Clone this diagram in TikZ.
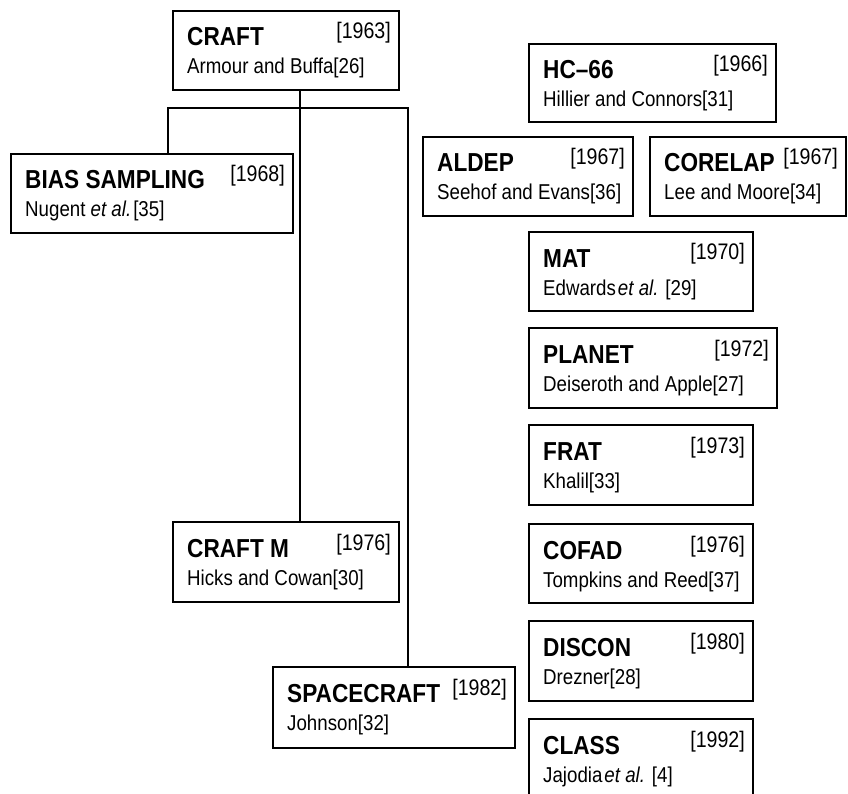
\documentclass[tikz,border=0pt]{standalone}
\usepackage{fontspec}
\setmainfont[FakeStretch=0.87]{Liberation Sans}
\begin{document}
\begin{tikzpicture}[x=1pt,y=-1pt,
  box/.style={draw,line width=1.2pt,inner sep=0pt,outer sep=0pt,rectangle},
  ttl/.style={inner sep=0pt,font=\fontsize{26}{30}\selectfont\bfseries},
  auth/.style={inner sep=0pt,font=\fontsize{21.5}{26}\selectfont},
  yr/.style={inner sep=0pt,font=\fontsize{22.5}{26}\selectfont},
  conn/.style={line width=1.2pt}]
\useasboundingbox (0,0) rectangle (848,794);
\clip (0,0) rectangle (848,794);
\newcommand\entry[8]{%
  \node[box,minimum width={#4-#2},minimum height={#5-#3}] (#1) at ({(#2+#4)/2},{(#3+#5)/2}) {};
  \node[ttl,anchor=base west] (#1-t) at ([shift={(14,35)}]#1.north west) {#6};
  \node[auth,anchor=base west] (#1-a) at ([shift={(14,63)}]#1.north west) {#7};
  \node[yr,anchor=base east] (#1-y) at ([shift={(-8,28)}]#1.north east) {#8};
}
\entry{craft}{173}{11}{399}{90}{CRAFT}{Armour and Buffa[26]}{[1963]}
\entry{hc}{529}{44}{776}{122}{HC–66}{Hillier and Connors[31]}{[1966]}
\entry{bias}{11}{154}{293}{233}{BIAS SAMPLING}{Nugent \textit{et al.}\hspace{2pt}[35]}{[1968]}
\entry{aldep}{423}{137}{633}{216}{ALDEP}{Seehof and Evans[36]}{[1967]}
\entry{corelap}{650}{137}{846}{216}{CORELAP}{Lee and Moore[34]}{[1967]}
\entry{mat}{529}{232}{753}{311}{MAT}{Edwards\hspace{2pt}\textit{et al.} [29]}{[1970]}
\entry{planet}{529}{328}{777}{408}{PLANET}{Deiseroth and Apple[27]}{[1972]}
\entry{frat}{529}{425}{753}{505}{FRAT}{Khalil[33]}{[1973]}
\entry{cofad}{529}{524}{753}{603}{COFAD}{Tompkins and Reed[37]}{[1976]}
\entry{discon}{529}{621}{753}{701}{DISCON}{Drezner[28]}{[1980]}
\entry{class}{529}{719}{753}{805}{CLASS}{Jajodia\hspace{2pt}\textit{et al.} [4]}{[1992]}
\entry{craftm}{173}{522}{399}{602}{CRAFT M}{Hicks and Cowan[30]}{[1976]}
\entry{space}{273}{667}{515}{748}{SPACECRAFT}{Johnson[32]}{[1982]}
\coordinate (spine) at (300,108);
\coordinate (lb) at (168,108);
\coordinate (rb) at (408,108);
\draw[conn] (craft.south -| spine) -- (craftm.north -| spine);
\draw[conn] (bias.north -| lb) -- (lb) -- (rb) -- (space.north -| rb);
\end{tikzpicture}
\end{document}
